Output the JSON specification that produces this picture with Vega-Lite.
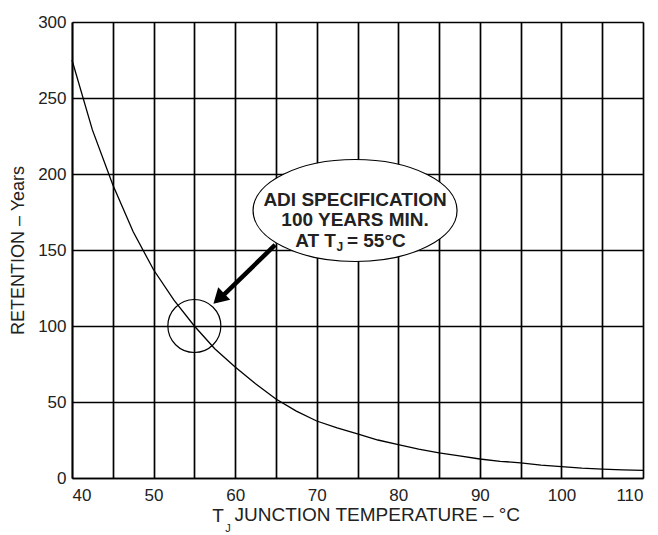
{
  "$schema": "https://vega.github.io/schema/vega-lite/v6.json",
  "width": 571,
  "height": 456,
  "autosize": {"type": "none"},
  "padding": {"left": 72, "top": 22, "right": 15, "bottom": 57},
  "background": "white",
  "config": {
    "view": {"stroke": null},
    "font": "Liberation Sans",
    "axis": {
      "domainColor": "black",
      "domainWidth": 1.7,
      "gridColor": "black",
      "gridWidth": 1.7,
      "gridOpacity": 1,
      "ticks": false,
      "labelColor": "#222",
      "titleColor": "#222",
      "labelFont": "Liberation Sans",
      "titleFont": "Liberation Sans",
      "labelFontSize": 17,
      "titleFontSize": 18,
      "titleFontWeight": "normal"
    }
  },
  "datasets": {
    "curve": [
      {"t": 40, "years": 275}, {"t": 42.5, "years": 229}, {"t": 45, "years": 193},
      {"t": 47.5, "years": 162}, {"t": 50, "years": 137}, {"t": 52.5, "years": 117},
      {"t": 55, "years": 100}, {"t": 57.5, "years": 85}, {"t": 60, "years": 73},
      {"t": 62.5, "years": 62}, {"t": 65, "years": 52}, {"t": 67.5, "years": 44},
      {"t": 70, "years": 37.5}, {"t": 72.5, "years": 33}, {"t": 75, "years": 29},
      {"t": 77.5, "years": 25}, {"t": 80, "years": 22}, {"t": 82.5, "years": 19},
      {"t": 85, "years": 16.5}, {"t": 87.5, "years": 14.5}, {"t": 90, "years": 12.5},
      {"t": 92.5, "years": 11}, {"t": 95, "years": 10}, {"t": 97.5, "years": 8.5},
      {"t": 100, "years": 7.5}, {"t": 102.5, "years": 6.5}, {"t": 105, "years": 5.8},
      {"t": 107.5, "years": 5.3}, {"t": 110, "years": 5}
    ]
  },
  "layer": [
    {
      "data": {"name": "curve"},
      "mark": {"type": "line", "color": "black", "strokeWidth": 1.3},
      "encoding": {
        "x": {
          "field": "t", "type": "quantitative",
          "scale": {"domain": [40, 110], "nice": false, "zero": false},
          "axis": {
            "values": [40, 45, 50, 55, 60, 65, 70, 75, 80, 85, 90, 95, 100, 105, 110],
            "labelExpr": "datum.value % 10 == 0 ? datum.label : ''",
            "labelPadding": 9,
            "title": "JUNCTION TEMPERATURE – °C",
            "titleFontSize": 19,
            "titleAnchor": "start",
            "titleAlign": "left",
            "titleX": 162,
            "titlePadding": 2
          }
        },
        "y": {
          "field": "years", "type": "quantitative",
          "scale": {"domain": [0, 300], "nice": false},
          "axis": {
            "values": [0, 50, 100, 150, 200, 250, 300],
            "labelPadding": 6,
            "title": "RETENTION – Years",
            "titlePadding": 10
          }
        }
      }
    },
    {
      "data": {"values": [{"t": 74.7, "years": 176}]},
      "mark": {
        "type": "point",
        "shape": "M -1 0 A 1 0.5 0 1 0 1 0 A 1 0.5 0 1 0 -1 0 Z",
        "size": 41616,
        "filled": true,
        "fill": "white",
        "fillOpacity": 1,
        "stroke": "black",
        "strokeWidth": 1.2,
        "opacity": 1
      },
      "encoding": {"x": {"field": "t", "type": "quantitative"}, "y": {"field": "years", "type": "quantitative"}}
    },
    {
      "data": {"values": [{"t": 55, "years": 100}]},
      "mark": {"type": "point", "shape": "circle", "size": 2809, "filled": false, "stroke": "black", "strokeWidth": 1.2, "opacity": 1},
      "encoding": {"x": {"field": "t", "type": "quantitative"}, "y": {"field": "years", "type": "quantitative"}}
    },
    {
      "data": {"values": [{"t1": 64.9, "y1": 153.3, "t2": 58.6, "y2": 120.5}]},
      "mark": {"type": "rule", "color": "black", "strokeWidth": 4.5},
      "encoding": {
        "x": {"field": "t1", "type": "quantitative"},
        "y": {"field": "y1", "type": "quantitative"},
        "x2": {"field": "t2"},
        "y2": {"field": "y2"}
      }
    },
    {
      "data": {"values": [{"t": 58.0, "years": 118.0}]},
      "mark": {"type": "point", "shape": "triangle-up", "size": 300, "filled": true, "color": "black", "angle": 226, "opacity": 1},
      "encoding": {"x": {"field": "t", "type": "quantitative"}, "y": {"field": "years", "type": "quantitative"}}
    },
    {
      "data": {"values": [
        {"t": 74.7, "years": 183.2, "label": "ADI SPECIFICATION"},
        {"t": 74.7, "years": 169.7, "label": "100 YEARS MIN."}
      ]},
      "mark": {"type": "text", "fontSize": 19, "fontWeight": "bold", "color": "#222", "align": "center", "baseline": "middle"},
      "encoding": {"x": {"field": "t", "type": "quantitative"}, "y": {"field": "years", "type": "quantitative"}, "text": {"field": "label"}}
    },
    {
      "data": {"values": [{"t": 72.36, "years": 155.6, "label": "AT T"}]},
      "mark": {"type": "text", "fontSize": 19, "fontWeight": "bold", "color": "#222", "align": "right", "baseline": "middle"},
      "encoding": {"x": {"field": "t", "type": "quantitative"}, "y": {"field": "years", "type": "quantitative"}, "text": {"field": "label"}}
    },
    {
      "data": {"values": [{"t": 72.85, "years": 152.2, "label": "J"}]},
      "mark": {"type": "text", "fontSize": 12, "fontWeight": "bold", "color": "#222", "align": "center", "baseline": "middle"},
      "encoding": {"x": {"field": "t", "type": "quantitative"}, "y": {"field": "years", "type": "quantitative"}, "text": {"field": "label"}}
    },
    {
      "data": {"values": [{"t": 73.7, "years": 155.6, "label": "= 55°C"}]},
      "mark": {"type": "text", "fontSize": 19, "fontWeight": "bold", "color": "#222", "align": "left", "baseline": "middle"},
      "encoding": {"x": {"field": "t", "type": "quantitative"}, "y": {"field": "years", "type": "quantitative"}, "text": {"field": "label"}}
    },
    {
      "data": {"values": [{"t": 58.63, "years": -28.9, "label": "T"}]},
      "mark": {"type": "text", "fontSize": 19, "color": "#222", "align": "right", "baseline": "alphabetic"},
      "encoding": {"x": {"field": "t", "type": "quantitative"}, "y": {"field": "years", "type": "quantitative"}, "text": {"field": "label"}}
    },
    {
      "data": {"values": [{"t": 58.8, "years": -33.6, "label": "J"}]},
      "mark": {"type": "text", "fontSize": 11, "color": "#222", "align": "left", "baseline": "middle"},
      "encoding": {"x": {"field": "t", "type": "quantitative"}, "y": {"field": "years", "type": "quantitative"}, "text": {"field": "label"}}
    }
  ]
}
